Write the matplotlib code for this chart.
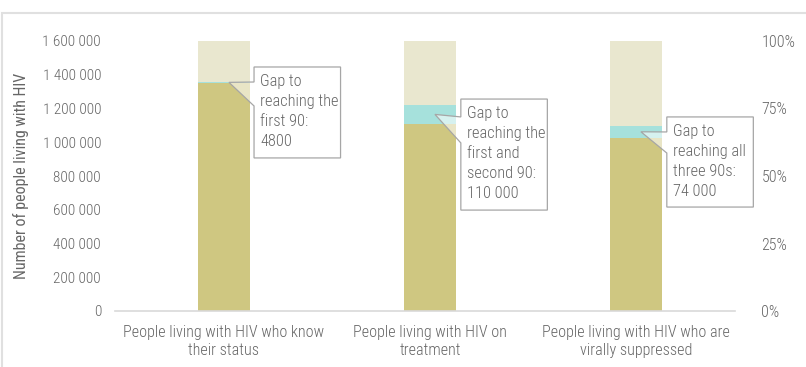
import numpy as np
import matplotlib
matplotlib.use("Agg")
import matplotlib.pyplot as plt
from matplotlib.patches import Polygon, Rectangle
from matplotlib.ticker import FuncFormatter, FixedLocator

plt.rcParams['font.family'] = ['Roboto Condensed', 'DejaVu Sans']
plt.rcParams['font.weight'] = 300

# data
categories = ["People living with HIV who know\ntheir status",
              "People living with HIV on\ntreatment",
              "People living with HIV who are\nvirally suppressed"]
achieved = [1350000, 1110000, 1025000]
gaps = [4800, 110000, 74000]
scale_max = 1600000
gap_texts = ["Gap to\nreaching the\nfirst 90:\n4800",
             "Gap to\nreaching the\nfirst and\nsecond 90:\n110 000",
             "Gap to\nreaching all\nthree 90s:\n74 000"]

# callout boxes (data coords): left offset, width, top, bottom, wedge top, wedge bottom
boxes = [(0.146, 0.42, 1446000, 907000, 1357000, 1215000),
         (0.150, 0.42, 1256000, 598000, 1150000, 996000),
         (0.150, 0.42, 1150000, 616000, 1061000, 936000)]

c_bar = '#cfc781'
c_bg = '#e9e7cf'
c_gap = '#a6e1dc'
c_text = '#666666'

fig = plt.figure(figsize=(8.06, 3.67), dpi=100)
ax = fig.add_axes([115/806, 56/367, 620/806, 270/367])
x = np.arange(len(categories))
w = 0.25

ax.bar(x, [scale_max]*3, width=w, color=c_bg, zorder=1)
ax.bar(x, achieved, width=w, color=c_bar, zorder=2)
ax.bar(x, gaps, width=w, bottom=achieved, color=c_gap, zorder=2)

ax.set_xlim(-0.529, 2.481)
ax.set_ylim(0, scale_max)
for s in ['top', 'right', 'left']:
    ax.spines[s].set_visible(False)
ax.spines['bottom'].set_color('#d9d9d9')
ax.spines['bottom'].set_linewidth(1.2)
ax.set_xticks(x)
ax.set_xticklabels(categories, fontsize=11.6, color=c_text, linespacing=1.3)
ax.yaxis.set_major_locator(FixedLocator(np.arange(0, scale_max + 1, 200000)))
ax.yaxis.set_major_formatter(FuncFormatter(lambda v, p: f"{int(v):,}".replace(",", " ")))
ax.tick_params(axis='y', length=0, labelsize=11, labelcolor=c_text, pad=10)
ax.tick_params(axis='x', length=0, labelcolor=c_text, pad=10)
ax.set_ylabel("Number of people living with HIV", fontsize=11.5, color=c_text, labelpad=10)

ax2 = ax.twinx()
ax2.set_ylim(0, 1)
ax2.set_yticks([0, 0.25, 0.5, 0.75, 1.0])
ax2.set_yticklabels(["0%", "25%", "50%", "75%", "100%"])
ax2.tick_params(length=0, labelsize=11.5, labelcolor=c_text, pad=19)
for s in ax2.spines.values():
    s.set_visible(False)

# callouts
px = 1 / 206.0
for i, (dx, bw, top, bot, w1, w2) in enumerate(boxes):
    tip_x = x[i] + 5 * px
    tip_y = achieved[i] + gaps[i] / 2 if gaps[i] > 20000 else achieved[i] + gaps[i]
    L = x[i] + dx
    R = L + bw
    poly = Polygon([(L, top), (R, top), (R, bot), (L, bot), (L, w2), (tip_x, tip_y), (L, w1)],
                   closed=True, facecolor=(1, 1, 1, 0.55), edgecolor='#a6a6a6', lw=0.9,
                   zorder=5, clip_on=False)
    ax.add_patch(poly)
    ax.text(L + 6 * px, top - 42000, gap_texts[i], ha='left', va='top', fontsize=11.8,
            color=c_text, linespacing=1.42, zorder=6, clip_on=False)

# outer frame
fig.add_artist(Rectangle((2/806, -0.1), 1.1, (367 - 13)/367 + 0.1, transform=fig.transFigure,
                         fill=False, edgecolor='#e0e0e0', lw=1.5))

fig.savefig("out.png", dpi=100)
